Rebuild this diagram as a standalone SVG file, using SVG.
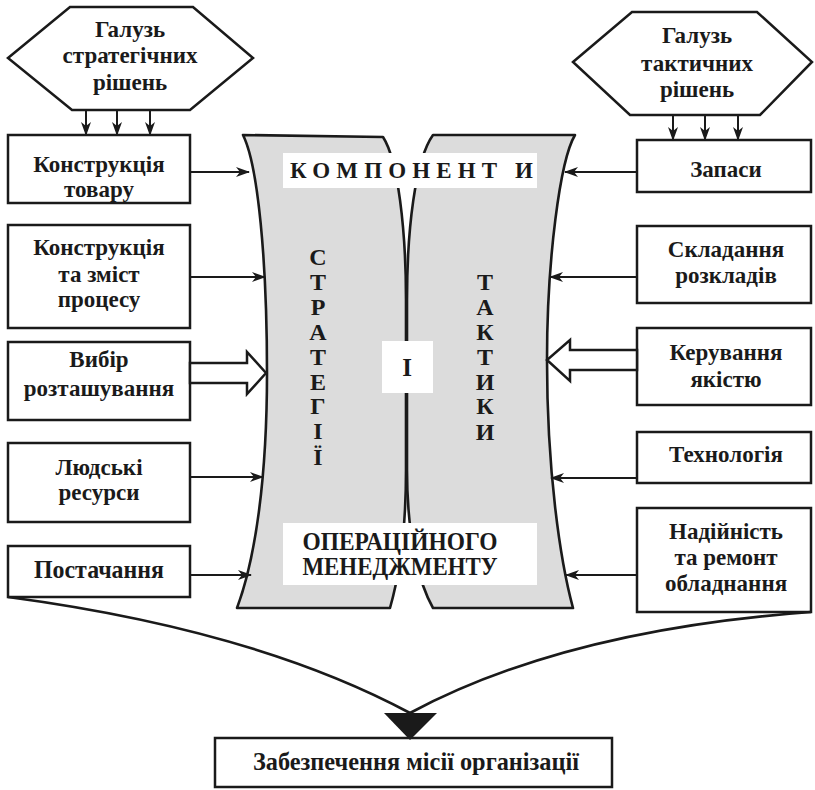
<svg xmlns="http://www.w3.org/2000/svg" width="815" height="790" viewBox="0 0 815 790">
  <defs>
    <style>
      .bg { fill: #ffffff; }
      .box { fill: #ffffff; stroke: #1a1a1a; stroke-width: 2.5; }
      .hex { fill: #ffffff; stroke: #1a1a1a; stroke-width: 2.5; stroke-linejoin: miter; }
      .page { fill: #dcdcdc; stroke: #1a1a1a; stroke-width: 2.6; stroke-linejoin: round; }
      .label-bg { fill: #ffffff; stroke: none; }
      text { font-family: "Times New Roman", "Liberation Serif", Times, serif; font-weight: bold; font-size: 23px; fill: #1a1a1a; text-anchor: middle; }
      .big { font-size: 25px; }
      .vert { font-size: 24px; }
      .wire { fill: none; stroke: #1a1a1a; stroke-width: 2; }
      .flow { fill: none; stroke: #1a1a1a; stroke-width: 2.6; }
      .block { fill: #ffffff; stroke: #1a1a1a; stroke-width: 2.5; stroke-linejoin: miter; }
    </style>
    <marker id="ah" viewBox="0 0 14 10" refX="13" refY="5" markerWidth="14" markerHeight="10" markerUnits="userSpaceOnUse" orient="auto">
      <path d="M0,0 L14,5 L0,10 L4,5 Z" fill="#1a1a1a"/>
    </marker>
  </defs>

  <rect class="bg" x="0" y="0" width="815" height="790"/>

  <!-- central component: two curved pages -->
  <g id="core">
    <path class="page" d="M243,135 L383,137 C398,160 406,230 406,300 L406,470 C406,540 398,580 390,608 L237,608 C255,560 267,480 267,373 C267,260 258,165 243,135 Z"/>
    <path class="page" d="M433,135 L575,135 C560,160 547,260 547,360 C547,470 560,560 573,608 L433,608 C420,585 407,540 407,470 L407,300 C407,230 415,160 433,135 Z"/>

    <rect class="label-bg" x="283" y="153" width="254" height="35"/>
    <text x="290" y="178" style="text-anchor:start" textLength="243" lengthAdjust="spacing">КОМПОНЕНТ И</text>

    <text class="vert" x="318" y="265">С</text>
    <text class="vert" x="318" y="290">Т</text>
    <text class="vert" x="318" y="315">Р</text>
    <text class="vert" x="318" y="340">А</text>
    <text class="vert" x="318" y="365">Т</text>
    <text class="vert" x="318" y="390">Е</text>
    <text class="vert" x="318" y="414">Г</text>
    <text class="vert" x="318" y="439">І</text>
    <text class="vert" x="318" y="465">Ї</text>

    <text class="vert" x="485" y="290">Т</text>
    <text class="vert" x="485" y="315">А</text>
    <text class="vert" x="485" y="340">К</text>
    <text class="vert" x="485" y="365">Т</text>
    <text class="vert" x="485" y="390">И</text>
    <text class="vert" x="485" y="414">К</text>
    <text class="vert" x="485" y="440">И</text>

    <rect class="label-bg" x="382" y="341" width="51" height="52"/>
    <text class="big" x="407" y="376">І</text>

    <rect class="label-bg" x="283" y="523" width="254" height="62"/>
    <text class="big" x="400" y="550" textLength="195" lengthAdjust="spacingAndGlyphs">ОПЕРАЦІЙНОГО</text>
    <text class="big" x="400" y="575" textLength="195" lengthAdjust="spacingAndGlyphs">МЕНЕДЖМЕНТУ</text>
  </g>

  <!-- strategic side -->
  <g id="strategic-area">
    <polygon class="hex" points="8,58 70,7 193,7 253,58 190,110 72,110"/>
    <text x="130" y="37">Галузь</text>
    <text x="130" y="63">стратегічних</text>
    <text x="130" y="90">рішень</text>
  </g>
  <g id="product-design">
    <rect class="box" x="8" y="135" width="182" height="68"/>
    <text x="99" y="172">Конструкція</text>
    <text x="99" y="197">товару</text>
  </g>
  <g id="process-design">
    <rect class="box" x="8" y="225" width="182" height="103"/>
    <text x="99" y="255">Конструкція</text>
    <text x="99" y="282">та зміст</text>
    <text x="99" y="307">процесу</text>
  </g>
  <g id="location">
    <rect class="box" x="8" y="342" width="182" height="78"/>
    <text x="99" y="367">Вибір</text>
    <text x="99" y="396">розташування</text>
  </g>
  <g id="human-resources">
    <rect class="box" x="8" y="443" width="182" height="79"/>
    <text x="99" y="475">Людські</text>
    <text x="99" y="500">ресурси</text>
  </g>
  <g id="supply">
    <rect class="box" x="8" y="546" width="182" height="51"/>
    <text x="99" y="578" style="font-size:26px" textLength="130" lengthAdjust="spacingAndGlyphs">Постачання</text>
  </g>

  <!-- tactical side -->
  <g id="tactical-area">
    <polygon class="hex" points="573,62 632,12 757,12 812,62 760,115 630,115"/>
    <text x="697" y="43">Галузь</text>
    <text x="697" y="71">тактичних</text>
    <text x="697" y="97">рішень</text>
  </g>
  <g id="inventory">
    <rect class="box" x="637" y="140" width="174" height="52"/>
    <text x="726" y="177">Запаси</text>
  </g>
  <g id="scheduling">
    <rect class="box" x="637" y="226" width="174" height="77"/>
    <text x="726" y="257">Складання</text>
    <text x="726" y="283">розкладів</text>
  </g>
  <g id="quality">
    <rect class="box" x="637" y="328" width="174" height="77"/>
    <text x="726" y="360">Керування</text>
    <text x="726" y="387">якістю</text>
  </g>
  <g id="technology">
    <rect class="box" x="637" y="432" width="174" height="51"/>
    <text x="726" y="462">Технологія</text>
  </g>
  <g id="maintenance">
    <rect class="box" x="637" y="508" width="174" height="104"/>
    <text x="726" y="539">Надійність</text>
    <text x="726" y="565">та ремонт</text>
    <text x="726" y="591">обладнання</text>
  </g>

  <!-- mission -->
  <g id="mission">
    <rect class="box" x="215" y="738" width="397" height="49"/>
    <text class="big" x="416" y="770" textLength="326" lengthAdjust="spacingAndGlyphs">Забезпечення місії організації</text>
  </g>

  <!-- connectors -->
  <g id="connectors">
    <line class="wire" x1="86" y1="110" x2="86" y2="135" marker-end="url(#ah)"/>
    <line class="wire" x1="117" y1="110" x2="117" y2="135" marker-end="url(#ah)"/>
    <line class="wire" x1="150" y1="110" x2="150" y2="135" marker-end="url(#ah)"/>

    <line class="wire" x1="673" y1="115" x2="673" y2="140" marker-end="url(#ah)"/>
    <line class="wire" x1="705" y1="115" x2="705" y2="140" marker-end="url(#ah)"/>
    <line class="wire" x1="738" y1="115" x2="738" y2="140" marker-end="url(#ah)"/>

    <line class="wire" x1="190" y1="172" x2="249" y2="172" marker-end="url(#ah)"/>
    <line class="wire" x1="190" y1="277" x2="265" y2="277" marker-end="url(#ah)"/>
    <line class="wire" x1="190" y1="477" x2="263" y2="477" marker-end="url(#ah)"/>
    <line class="wire" x1="190" y1="575" x2="251" y2="575" marker-end="url(#ah)"/>

    <line class="wire" x1="637" y1="172" x2="565" y2="172" marker-end="url(#ah)"/>
    <line class="wire" x1="637" y1="277" x2="550" y2="277" marker-end="url(#ah)"/>
    <line class="wire" x1="637" y1="478" x2="551" y2="478" marker-end="url(#ah)"/>
    <line class="wire" x1="637" y1="575" x2="566" y2="575" marker-end="url(#ah)"/>

    <polygon class="block" points="190,363 247,363 247,352 266,373 247,394 247,383 190,383"/>
    <polygon class="block" points="637,350 570,350 570,340 547,360 570,381 570,370 637,370"/>

    <path class="flow" d="M8,597 Q255,630 410,713"/>
    <path class="flow" d="M811,612 Q565,630 410,713"/>
    <polygon points="384,713 437,713 410,740" fill="#1a1a1a"/>
  </g>
</svg>
